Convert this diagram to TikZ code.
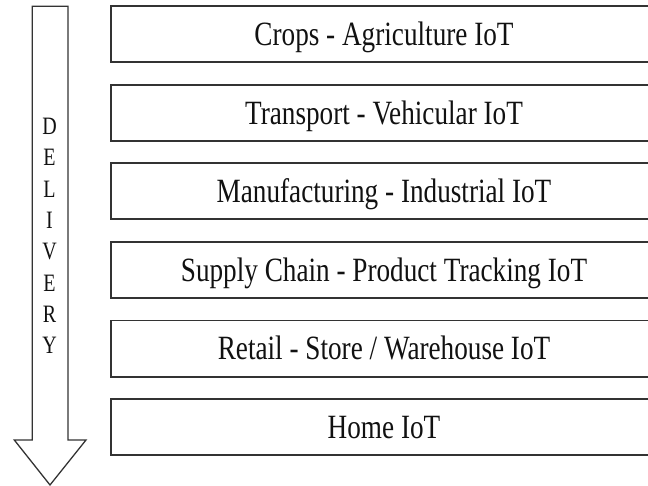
\documentclass[tikz,border=0pt]{standalone}
\usepackage{fontspec}
\setmainfont{Liberation Serif}
\usepackage{tikz}
\usetikzlibrary{positioning}
\definecolor{edge}{HTML}{333333}
\definecolor{ink}{HTML}{111111}
\tikzset{
  layer/.style={draw=edge, line width=1.8pt, text=ink, minimum width=546pt, minimum height=56pt,
    inner sep=0pt, outer sep=0pt, text height=22.5pt, text depth=0pt, font=\fontsize{34}{40}\selectfont},
  flow/.style={draw=edge, line width=1.3pt, line join=miter},
  lab/.style={text=ink, font=\fontsize{25}{31.3}\selectfont, align=center}
}
\newcommand{\narrow}[1]{\scalebox{0.8}[1]{#1}}

\begin{document}
\begin{tikzpicture}[x=1pt,y=-1pt]
  \useasboundingbox (0,0) rectangle (648,486);
  \clip (0,0) rectangle (648,486);
  % delivery arrow
  \draw[flow] (32.3,6.3) -- (68,6.3) -- (68,440) -- (86,440) -- (50,485)
    -- (14.3,440) -- (32.3,440) -- cycle;
  \node[lab] (word) at (49.5,236) {\narrow{D}\\\narrow{E}\\\narrow{L}\\\narrow{I}\\\narrow{V}\\\narrow{E}\\\narrow{R}\\\narrow{Y}};
  % layers
  \node[layer] (crops) at (384,34.2) {\narrow{Crops - Agriculture IoT}};
  \node[layer, below=22.6pt of crops] (transport) {\narrow{Transport - Vehicular IoT}};
  \node[layer, below=22.6pt of transport] (factory) {\narrow{Manufacturing - Industrial IoT}};
  \node[layer, below=22.6pt of factory] (supply) {\narrow{Supply Chain - Product Tracking IoT}};
  \node[layer, below=22.6pt of supply] (retail) {\narrow{Retail - Store / Warehouse IoT}};
  \node[layer, below=22.6pt of retail] (home) {\narrow{Home IoT}};
\end{tikzpicture}
\end{document}
